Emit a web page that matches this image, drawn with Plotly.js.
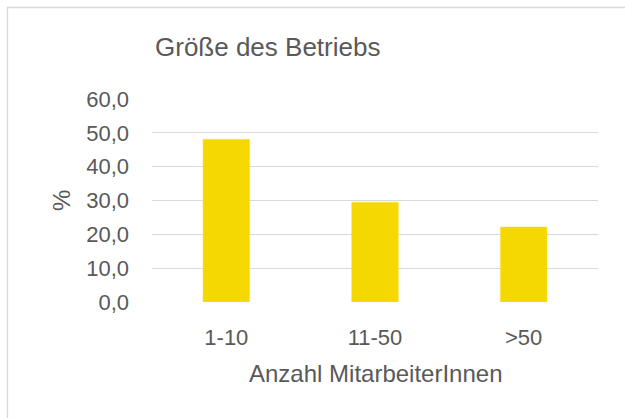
<!DOCTYPE html>
<html>
<head>
<meta charset="utf-8">
<script src="https://cdn.plot.ly/plotly-3.0.1.min.js"></script>
<style>html,body{margin:0;padding:0;background:#fff;}#chart{width:625px;height:418px;}</style>
</head>
<body>
<div id="chart"></div>
<script>
const categories = ["1-10", "11-50", ">50"];
const values = [48.1, 29.5, 22.2];
const yTickVals = [0, 10, 20, 30, 40, 50, 60];
const yTickText = ["0,0", "10,0", "20,0", "30,0", "40,0", "50,0", "60,0"];
const chartTitle = "Größe des Betriebs";
const xTitle = "Anzahl MitarbeiterInnen";
const yTitle = "%";

const FONT = "Liberation Sans, Arial, sans-serif";
const GREY = "#595959";

const trace = {
  type: "bar",
  x: categories,
  y: values,
  marker: {color: "#F5D800", line: {color: "#F8E04A", width: 0.5}},
  hoverinfo: "skip"
};

const layout = {
  width: 625, height: 418,
  margin: {l: 152, r: 27, t: 99, b: 116},
  paper_bgcolor: "#fff", plot_bgcolor: "#fff",
  bargap: 0.686,
  showlegend: false,
  xaxis: {
    type: "category",
    showgrid: false, zeroline: false,
    showline: false,
    ticks: "",
    ticklabelstandoff: 20,
    tickfont: {family: FONT, size: 22, color: GREY}
  },
  yaxis: {
    range: [0, 60],
    tickvals: yTickVals, ticktext: yTickText,
    showgrid: true, gridcolor: "#D9D9D9", gridwidth: 1.3,
    zeroline: false, showline: false, ticks: "",
    ticklabelstandoff: 22,
    tickfont: {family: FONT, size: 22, color: GREY}
  },
  annotations: [
    {text: chartTitle, xref: "paper", yref: "paper", showarrow: false,
     font: {family: FONT, size: 26, color: GREY}},
    {text: xTitle, xref: "paper", yref: "paper", showarrow: false,
     font: {family: FONT, size: 24, color: GREY}},
    {text: yTitle, xref: "paper", yref: "paper", showarrow: false, textangle: -90,
     font: {family: FONT, size: 24, color: GREY}}
  ],
  shapes: [
    {type: "rect", xref: "paper", yref: "paper",
     line: {color: "#D9D9D9", width: 1.3}, fillcolor: "rgba(0,0,0,0)", layer: "below"}
  ]
};

// Position annotations & frame in pixel terms relative to the plot area
const plotW = 625 - 152 - 27, plotH = 418 - 99 - 116;
function px2x(px) { return (px - 152) / plotW; }
function px2y(py) { return (418 - 116 - py) / plotH; }
const place = (a, px, py) => { a.x = px2x(px); a.y = px2y(py); a.xanchor = "center"; a.yanchor = "middle"; };
place(layout.annotations[0], 267, 47);
place(layout.annotations[1], 375, 373);
place(layout.annotations[2], 61, 201);
layout.shapes[0].x0 = px2x(7.5); layout.shapes[0].x1 = px2x(640);
layout.shapes[0].y0 = px2y(430); layout.shapes[0].y1 = px2y(7.5);

Plotly.newPlot("chart", [trace], layout, {displayModeBar: false, staticPlot: true});
</script>
</body>
</html>
